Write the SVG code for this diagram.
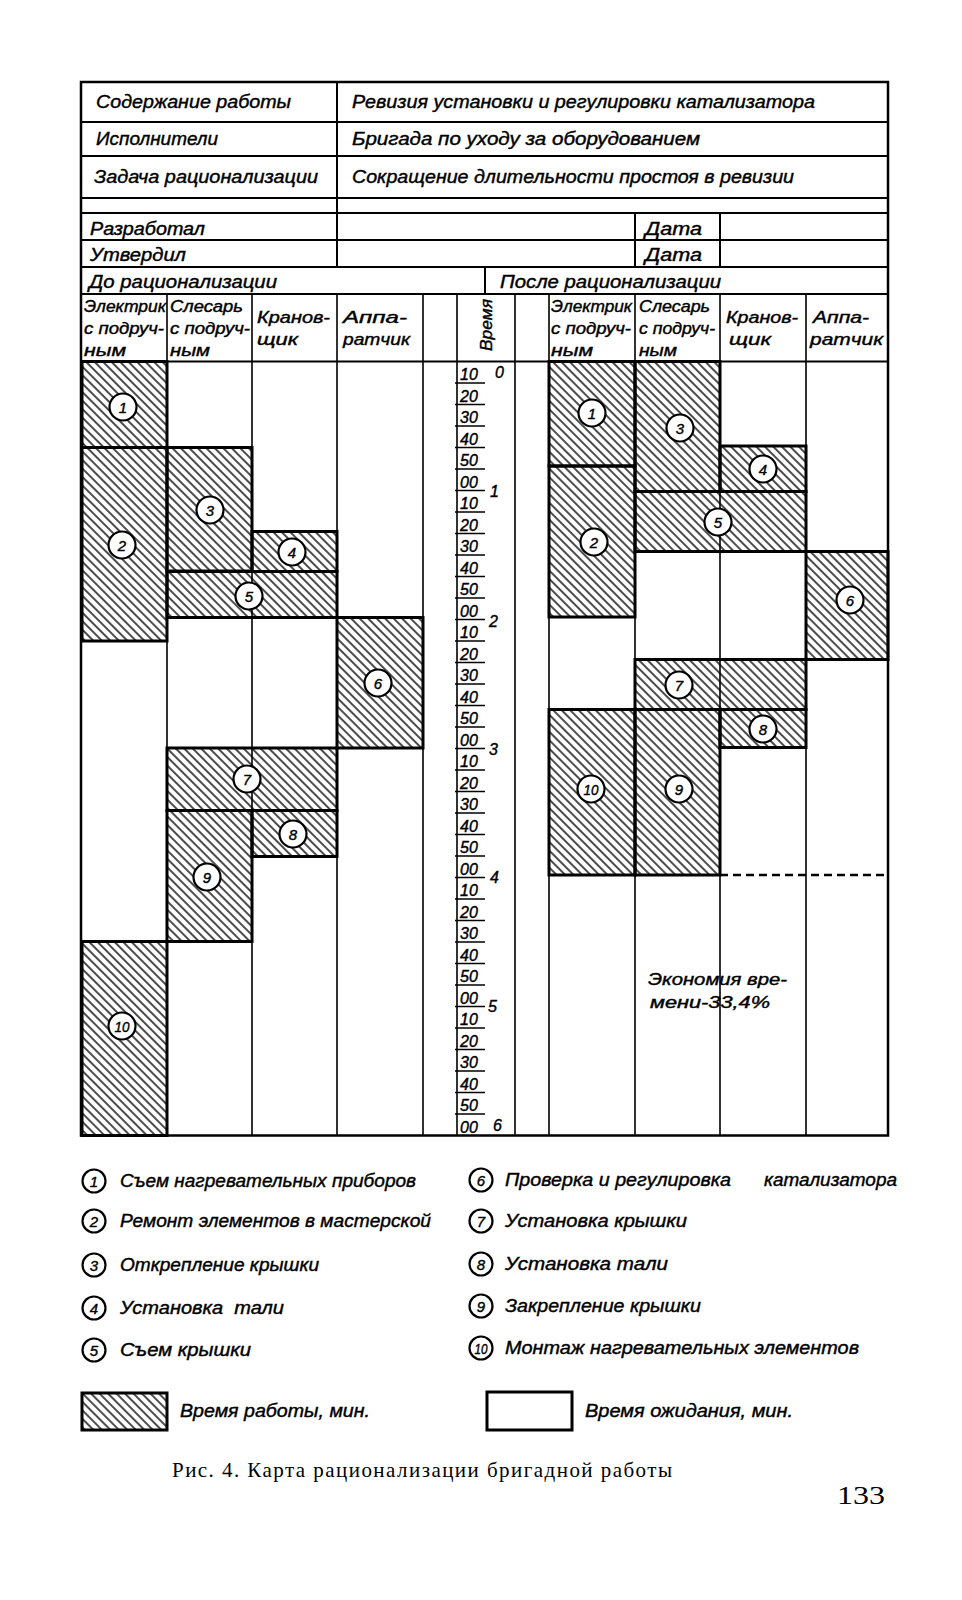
<svg xmlns="http://www.w3.org/2000/svg" width="962" height="1600" viewBox="0 0 962 1600">
<defs>
<pattern id="hatch" patternUnits="userSpaceOnUse" width="6" height="6" patternTransform="rotate(-45)">
<line x1="3" y1="-1" x2="3" y2="7" stroke="#000" stroke-width="1.4"/>
</pattern>
<style>
.t{font-family:"Liberation Sans",Arial,sans-serif;font-style:italic;fill:#000;stroke:#000;stroke-width:0.4px}
.h{font-size:18px}
.c{font-size:16px}
.n{font-size:15px;text-anchor:middle}
.tm{font-size:16px}
.lg{font-size:18px}
.ln{fill:none;stroke:#000}
.blk{fill:url(#hatch);stroke:#000;stroke-width:3}
.cir{fill:#fff;stroke:#000;stroke-width:2.2}
.cap{font-family:"Liberation Serif","Times New Roman",serif;fill:#000}
</style>
</defs>
<rect x="0" y="0" width="962" height="1600" fill="#fff"/>

<g id="form">
<rect x="81" y="82" width="807" height="1053.5" class="ln" stroke-width="2.5"/>
<path class="ln" stroke-width="2" d="M81 122H888M81 156H888M81 198H888M81 213H888M81 240H888M81 267H888M81 294H888M81 361.5H888"/>
<path class="ln" stroke-width="2" d="M337 82V267M635 213V267M720 213V267M485 267V294"/>
<path class="ln" stroke-width="1.6" d="M167 294V1135.5M252 294V1135.5M337 294V1135.5M423 294V1135.5M457 294V1135.5M515 294V1135.5M549 294V1135.5M635 294V1135.5M720 294V1135.5M806 294V1135.5"/>
<text class="t h" x="96" y="108" textLength="195" lengthAdjust="spacingAndGlyphs">Содержание работы</text>
<text class="t h" x="352" y="108" textLength="463" lengthAdjust="spacingAndGlyphs">Ревизия установки и регулировки катализатора</text>
<text class="t h" x="96" y="145" textLength="122" lengthAdjust="spacingAndGlyphs">Исполнители</text>
<text class="t h" x="352" y="145" textLength="348" lengthAdjust="spacingAndGlyphs">Бригада по уходу за оборудованием</text>
<text class="t h" x="94" y="183" textLength="224" lengthAdjust="spacingAndGlyphs">Задача рационализации</text>
<text class="t h" x="352" y="183" textLength="442" lengthAdjust="spacingAndGlyphs">Сокращение длительности простоя в ревизии</text>
<text class="t h" x="90" y="235" textLength="115" lengthAdjust="spacingAndGlyphs">Разработал</text>
<text class="t h" x="645" y="235" textLength="57" lengthAdjust="spacingAndGlyphs">Дата</text>
<text class="t h" x="90" y="261" textLength="96" lengthAdjust="spacingAndGlyphs">Утвердил</text>
<text class="t h" x="645" y="261" textLength="57" lengthAdjust="spacingAndGlyphs">Дата</text>
<text class="t h" x="89" y="288" textLength="188" lengthAdjust="spacingAndGlyphs">До рационализации</text>
<text class="t h" x="500" y="288" textLength="221" lengthAdjust="spacingAndGlyphs">После рационализации</text>
<text class="t c" x="84" y="312" textLength="82" lengthAdjust="spacingAndGlyphs">Электрик</text>
<text class="t c" x="84" y="334" textLength="80" lengthAdjust="spacingAndGlyphs">с подруч-</text>
<text class="t c" x="84" y="356" textLength="42" lengthAdjust="spacingAndGlyphs">ным</text>
<text class="t c" x="170" y="312" textLength="73" lengthAdjust="spacingAndGlyphs">Слесарь</text>
<text class="t c" x="170" y="334" textLength="80" lengthAdjust="spacingAndGlyphs">с подруч-</text>
<text class="t c" x="170" y="356" textLength="40" lengthAdjust="spacingAndGlyphs">ным</text>
<text class="t c" x="257" y="323" textLength="73" lengthAdjust="spacingAndGlyphs">Кранов-</text>
<text class="t c" x="257" y="345" textLength="41" lengthAdjust="spacingAndGlyphs">щик</text>
<text class="t c" x="343" y="323" textLength="64" lengthAdjust="spacingAndGlyphs">Аппа-</text>
<text class="t c" x="343" y="345" textLength="67" lengthAdjust="spacingAndGlyphs">ратчик</text>
<text class="t c" transform="translate(492 325) rotate(-90)" text-anchor="middle" textLength="52" lengthAdjust="spacingAndGlyphs">Время</text>
<text class="t c" x="551" y="312" textLength="81" lengthAdjust="spacingAndGlyphs">Электрик</text>
<text class="t c" x="551" y="334" textLength="80" lengthAdjust="spacingAndGlyphs">с подруч-</text>
<text class="t c" x="551" y="356" textLength="42" lengthAdjust="spacingAndGlyphs">ным</text>
<text class="t c" x="639" y="312" textLength="71" lengthAdjust="spacingAndGlyphs">Слесарь</text>
<text class="t c" x="639" y="334" textLength="76" lengthAdjust="spacingAndGlyphs">с подруч-</text>
<text class="t c" x="639" y="356" textLength="38" lengthAdjust="spacingAndGlyphs">ным</text>
<text class="t c" x="726" y="323" textLength="72" lengthAdjust="spacingAndGlyphs">Кранов-</text>
<text class="t c" x="729" y="345" textLength="42" lengthAdjust="spacingAndGlyphs">щик</text>
<text class="t c" x="813" y="323" textLength="56" lengthAdjust="spacingAndGlyphs">Аппа-</text>
<text class="t c" x="810" y="345" textLength="73" lengthAdjust="spacingAndGlyphs">ратчик</text>
</g>

<g id="time-scale">
<path class="ln" stroke-width="1.5" d="M455 383H485M455 404.5H485M455 426H485M455 447.5H485M455 469H485M455 490.5H485M455 512H485M455 533.5H485M455 555H485M455 576.5H485M455 598H485M455 619.5H485M455 641H485M455 662.5H485M455 684H485M455 705.5H485M455 727H485M455 748.5H485M455 770H485M455 791.5H485M455 813H485M455 834.5H485M455 856H485M455 877.5H485M455 899H485M455 920.5H485M455 942H485M455 963.5H485M455 985H485M455 1006.5H485M455 1028H485M455 1049.5H485M455 1071H485M455 1092.5H485M455 1114H485"/>
<g class="t tm">
<text x="460" y="380">10</text><text x="460" y="401.5">20</text><text x="460" y="423">30</text><text x="460" y="444.5">40</text><text x="460" y="466">50</text><text x="460" y="487.5">00</text>
<text x="460" y="509">10</text><text x="460" y="530.5">20</text><text x="460" y="552">30</text><text x="460" y="573.5">40</text><text x="460" y="595">50</text><text x="460" y="616.5">00</text>
<text x="460" y="638">10</text><text x="460" y="659.5">20</text><text x="460" y="681">30</text><text x="460" y="702.5">40</text><text x="460" y="724">50</text><text x="460" y="745.5">00</text>
<text x="460" y="767">10</text><text x="460" y="788.5">20</text><text x="460" y="810">30</text><text x="460" y="831.5">40</text><text x="460" y="853">50</text><text x="460" y="874.5">00</text>
<text x="460" y="896">10</text><text x="460" y="917.5">20</text><text x="460" y="939">30</text><text x="460" y="960.5">40</text><text x="460" y="982">50</text><text x="460" y="1003.5">00</text>
<text x="460" y="1025">10</text><text x="460" y="1046.5">20</text><text x="460" y="1068">30</text><text x="460" y="1089.5">40</text><text x="460" y="1111">50</text><text x="460" y="1132.5">00</text>
</g>
<g class="t c">
<text x="495" y="378">0</text><text x="490" y="497">1</text><text x="489" y="627">2</text><text x="489" y="755">3</text><text x="490" y="883">4</text><text x="488" y="1012">5</text><text x="493" y="1131">6</text>
</g>
</g>

<g id="before">
<g id="b1"><rect class="blk" x="82" y="361.5" width="85" height="86"/><circle class="cir" cx="123" cy="407" r="13.5"/><text class="t n" x="123" y="412.5">1</text></g>
<g id="b2"><rect class="blk" x="82" y="447.5" width="85" height="193.5"/><circle class="cir" cx="122" cy="545" r="13.5"/><text class="t n" x="122" y="550.5">2</text></g>
<g id="b3"><rect class="blk" x="167" y="447.5" width="85" height="123.5"/><circle class="cir" cx="210" cy="510" r="13.5"/><text class="t n" x="210" y="515.5">3</text></g>
<g id="b4"><rect class="blk" x="252" y="531.5" width="85" height="40"/><circle class="cir" cx="292" cy="552" r="13.5"/><text class="t n" x="292" y="557.5">4</text></g>
<g id="b5"><rect class="blk" x="167" y="571.5" width="170" height="46"/><circle class="cir" cx="249" cy="596" r="13.5"/><text class="t n" x="249" y="601.5">5</text></g>
<g id="b6"><rect class="blk" x="337" y="617.5" width="86" height="130.5"/><circle class="cir" cx="378" cy="683" r="13.5"/><text class="t n" x="378" y="688.5">6</text></g>
<g id="b7"><rect class="blk" x="167" y="748" width="170" height="62.5"/><circle class="cir" cx="247" cy="779" r="13.5"/><text class="t n" x="247" y="784.5">7</text></g>
<g id="b8"><rect class="blk" x="252" y="810.5" width="85" height="46"/><circle class="cir" cx="293" cy="834" r="13.5"/><text class="t n" x="293" y="839.5">8</text></g>
<g id="b9"><rect class="blk" x="167" y="810.5" width="85" height="131"/><circle class="cir" cx="207" cy="877" r="13.5"/><text class="t n" x="207" y="882.5">9</text></g>
<g id="b10"><rect class="blk" x="82" y="941.5" width="85" height="194"/><circle class="cir" cx="122" cy="1026" r="13.5"/><text class="t n" x="122" y="1031.5" textLength="15" lengthAdjust="spacingAndGlyphs">10</text></g>
</g>

<g id="after">
<g id="a1"><rect class="blk" x="549" y="361.5" width="86" height="104.5"/><circle class="cir" cx="592" cy="413" r="13.5"/><text class="t n" x="592" y="418.5">1</text></g>
<g id="a2"><rect class="blk" x="549" y="466" width="86" height="151"/><circle class="cir" cx="594" cy="542" r="13.5"/><text class="t n" x="594" y="547.5">2</text></g>
<g id="a3"><rect class="blk" x="635" y="361.5" width="85" height="130"/><circle class="cir" cx="680" cy="428" r="13.5"/><text class="t n" x="680" y="433.5">3</text></g>
<g id="a4"><rect class="blk" x="720" y="446" width="86" height="45.5"/><circle class="cir" cx="763" cy="469" r="13.5"/><text class="t n" x="763" y="474.5">4</text></g>
<g id="a5"><rect class="blk" x="635" y="491.5" width="171" height="60"/><circle class="cir" cx="718" cy="522" r="13.5"/><text class="t n" x="718" y="527.5">5</text></g>
<g id="a6"><rect class="blk" x="806" y="551.5" width="82" height="108"/><circle class="cir" cx="850" cy="600" r="13.5"/><text class="t n" x="850" y="605.5">6</text></g>
<g id="a7"><rect class="blk" x="635" y="659.5" width="171" height="50"/><circle class="cir" cx="679" cy="685" r="13.5"/><text class="t n" x="679" y="690.5">7</text></g>
<g id="a8"><rect class="blk" x="720" y="709.5" width="86" height="38"/><circle class="cir" cx="763" cy="729" r="13.5"/><text class="t n" x="763" y="734.5">8</text></g>
<g id="a9"><rect class="blk" x="635" y="709.5" width="85" height="165.5"/><circle class="cir" cx="679" cy="789" r="13.5"/><text class="t n" x="679" y="794.5">9</text></g>
<g id="a10"><rect class="blk" x="549" y="709.5" width="86" height="165.5"/><circle class="cir" cx="591" cy="789" r="13.5"/><text class="t n" x="591" y="794.5" textLength="15" lengthAdjust="spacingAndGlyphs">10</text></g>
<path class="ln" stroke-width="2.5" stroke-dasharray="8 5" d="M720 875H888"/>
<text class="t c" x="648" y="985" textLength="139" lengthAdjust="spacingAndGlyphs">Экономия вре-</text>
<text class="t c" x="650" y="1008" textLength="120" lengthAdjust="spacingAndGlyphs">мени-33,4%</text>
</g>

<g id="legend">
<g id="l1"><circle class="cir" cx="94" cy="1181" r="11.5"/><text class="t n" x="94" y="1186.5">1</text><text class="t lg" x="120" y="1187" textLength="296" lengthAdjust="spacingAndGlyphs">Съем нагревательных приборов</text></g>
<g id="l2"><circle class="cir" cx="94" cy="1221" r="11.5"/><text class="t n" x="94" y="1226.5">2</text><text class="t lg" x="120" y="1227" textLength="311" lengthAdjust="spacingAndGlyphs">Ремонт элементов в мастерской</text></g>
<g id="l3"><circle class="cir" cx="94" cy="1265" r="11.5"/><text class="t n" x="94" y="1270.5">3</text><text class="t lg" x="120" y="1271" textLength="199" lengthAdjust="spacingAndGlyphs">Открепление крышки</text></g>
<g id="l4"><circle class="cir" cx="94" cy="1308" r="11.5"/><text class="t n" x="94" y="1313.5">4</text><text class="t lg" x="120" y="1314" textLength="164" lengthAdjust="spacingAndGlyphs" xml:space="preserve">Установка  тали</text></g>
<g id="l5"><circle class="cir" cx="94" cy="1350" r="11.5"/><text class="t n" x="94" y="1355.5">5</text><text class="t lg" x="120" y="1356" textLength="131" lengthAdjust="spacingAndGlyphs">Съем крышки</text></g>
<g id="l6"><circle class="cir" cx="481" cy="1180" r="11.5"/><text class="t n" x="481" y="1185.5">6</text><text class="t lg" y="1186"><tspan x="505" textLength="226" lengthAdjust="spacingAndGlyphs">Проверка и регулировка</tspan><tspan x="764" textLength="133" lengthAdjust="spacingAndGlyphs">катализатора</tspan></text></g>
<g id="l7"><circle class="cir" cx="481" cy="1221" r="11.5"/><text class="t n" x="481" y="1226.5">7</text><text class="t lg" x="505" y="1227" textLength="182" lengthAdjust="spacingAndGlyphs">Установка крышки</text></g>
<g id="l8"><circle class="cir" cx="481" cy="1264" r="11.5"/><text class="t n" x="481" y="1269.5">8</text><text class="t lg" x="505" y="1270" textLength="163" lengthAdjust="spacingAndGlyphs">Установка тали</text></g>
<g id="l9"><circle class="cir" cx="481" cy="1306" r="11.5"/><text class="t n" x="481" y="1311.5">9</text><text class="t lg" x="505" y="1312" textLength="196" lengthAdjust="spacingAndGlyphs">Закрепление крышки</text></g>
<g id="l10"><circle class="cir" cx="481" cy="1348" r="11.5"/><text class="t n" x="481" y="1353.5" textLength="13" lengthAdjust="spacingAndGlyphs">10</text><text class="t lg" x="505" y="1354" textLength="354" lengthAdjust="spacingAndGlyphs">Монтаж нагревательных элементов</text></g>
<g id="l-work"><rect class="blk" x="82" y="1393" width="85" height="37"/><text class="t lg" x="180" y="1417" textLength="190" lengthAdjust="spacingAndGlyphs">Время работы, мин.</text></g>
<g id="l-wait"><rect x="487" y="1392" width="85" height="38" fill="#fff" stroke="#000" stroke-width="3"/><text class="t lg" x="585" y="1417" textLength="208" lengthAdjust="spacingAndGlyphs">Время ожидания, мин.</text></g>
</g>

<g id="caption">
<text class="cap" x="172" y="1477" font-size="21" textLength="500" lengthAdjust="spacing">Рис. 4. Карта рационализации бригадной работы</text>
<text class="cap" x="837" y="1504" font-size="26" textLength="48" lengthAdjust="spacingAndGlyphs">133</text>
</g>
</svg>
